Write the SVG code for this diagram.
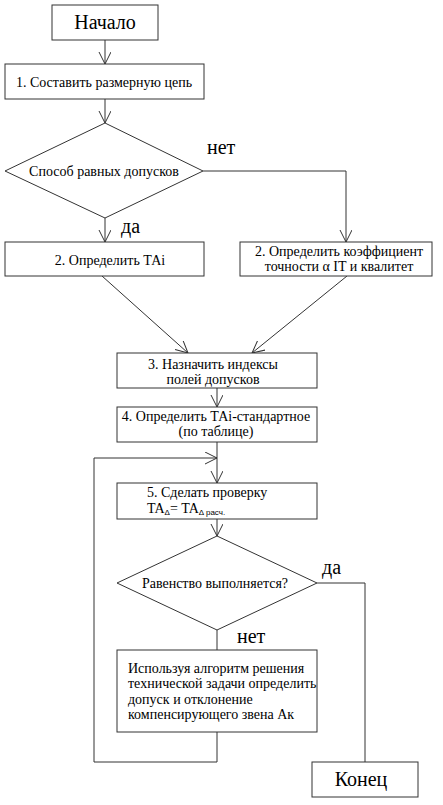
<svg xmlns="http://www.w3.org/2000/svg" width="443" height="805" viewBox="0 0 443 805">
<defs>
<style>
.box{fill:#fff;stroke:#333;stroke-width:1}
.ln{fill:none;stroke:#333;stroke-width:1}
text{fill:#000}
.t{font-size:14px}
.big{font-size:20px}
.sub{font-size:8px}
.c{text-anchor:middle}
</style>
<marker id="arr" markerUnits="userSpaceOnUse" markerWidth="14" markerHeight="14" refX="12" refY="6" orient="auto">
<path d="M0,0 L12,6 L0,12" fill="none" stroke="#333" stroke-width="1"/>
</marker>
</defs>
<rect width="443" height="805" fill="#fff"/>
<g font-family="'Liberation Serif', 'Times New Roman', 'DejaVu Serif', serif">
<g id="connectors">
<line class="ln" x1="105" y1="40" x2="105" y2="64" marker-end="url(#arr)"/>
<line class="ln" x1="105" y1="99" x2="105" y2="123" marker-end="url(#arr)"/>
<polyline class="ln" points="203,171 346,171 346,242" marker-end="url(#arr)"/>
<line class="ln" x1="105" y1="218" x2="105" y2="242" marker-end="url(#arr)"/>
<line class="ln" x1="102" y1="276" x2="188" y2="353" marker-end="url(#arr)"/>
<line class="ln" x1="347" y1="276" x2="252" y2="353" marker-end="url(#arr)"/>
<line class="ln" x1="217" y1="388" x2="217" y2="407" marker-end="url(#arr)"/>
<line class="ln" x1="217" y1="442" x2="217" y2="483" marker-end="url(#arr)"/>
<line class="ln" x1="217" y1="519" x2="217" y2="536" marker-end="url(#arr)"/>
<polyline class="ln" points="317,583 365,583 365,762"/>
<line class="ln" x1="217" y1="630" x2="217" y2="650"/>
<polyline class="ln" points="217,732 217,762 94,762 94,458 217,458" marker-end="url(#arr)"/>
<text class="big" x="207" y="154">нет</text>
<text class="big" x="121" y="233">да</text>
<text class="big" x="322" y="574">да</text>
<text class="big" x="237" y="643">нет</text>
</g>
<g id="start">
<rect class="box" x="52" y="5" width="106" height="35"/>
<text class="big c" x="105" y="29">Начало</text>
</g>
<g id="step1">
<rect class="box" x="5" y="64" width="199" height="35"/>
<text class="t c" x="104" y="87">1. Составить размерную цепь</text>
</g>
<g id="decision1">
<polygon class="box" points="105,123 203,171 105,218 5,171"/>
<text class="t c" x="104" y="176">Способ равных допусков</text>
</g>
<g id="step2a">
<rect class="box" x="5" y="242" width="199" height="34"/>
<text class="t c" x="110" y="265">2. Определить ТАi</text>
</g>
<g id="step2b">
<rect class="box" x="240" y="242" width="192" height="34"/>
<text class="t c" x="339" y="256">2. Определить коэффициент</text>
<text class="t c" x="339" y="271">точности α IT и квалитет</text>
</g>
<g id="step3">
<rect class="box" x="117" y="353" width="200" height="35"/>
<text class="t c" x="213" y="369">3. Назначить индексы</text>
<text class="t c" x="213" y="384">полей допусков</text>
</g>
<g id="step4">
<rect class="box" x="117" y="407" width="200" height="35"/>
<text class="t c" x="216" y="421">4. Определить ТАi-стандартное</text>
<text class="t c" x="216" y="436">(по таблице)</text>
</g>
<g id="step5">
<rect class="box" x="117" y="483" width="200" height="36"/>
<text class="t" x="147" y="497">5. Сделать проверку</text>
<text class="t" x="147" y="513">TA<tspan class="sub" font-family="'Liberation Sans', sans-serif" dy="2">Δ</tspan><tspan dy="-2">= TA</tspan><tspan class="sub" font-family="'Liberation Sans', sans-serif" dy="2">Δ расч.</tspan></text>
</g>
<g id="decision2">
<polygon class="box" points="217,536 317,583 217,630 117,583"/>
<text class="t c" x="215" y="588">Равенство выполняется?</text>
</g>
<g id="step6">
<rect class="box" x="117" y="650" width="200" height="82"/>
<text class="t" x="128" y="673">Используя алгоритм решения</text>
<text class="t" x="128" y="688">технической задачи определить</text>
<text class="t" x="128" y="704">допуск и отклонение</text>
<text class="t" x="128" y="719">компенсирующего звена Ак</text>
</g>
<g id="end">
<rect class="box" x="312" y="762" width="106" height="35"/>
<text class="big c" x="361" y="786">Конец</text>
</g>
</g>
</svg>
